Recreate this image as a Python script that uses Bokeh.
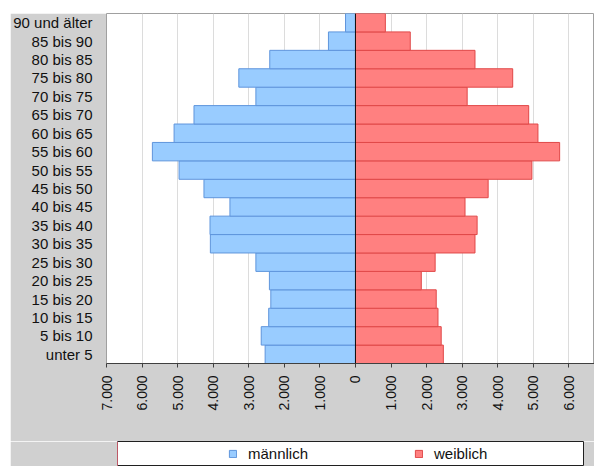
import math
from bokeh.plotting import figure
from bokeh.models import (ColumnDataSource, FactorRange, FixedTicker, CustomJSTickFormatter,
                          Span, Legend, LegendItem, Spacer, Range1d)
from bokeh.layouts import column, row
from bokeh.embed import file_html
from bokeh.resources import INLINE

# Age groups, bottom to top
categories = ["unter 5", "5 bis 10", "10 bis 15", "15 bis 20", "20 bis 25", "25 bis 30",
              "30 bis 35", "35 bis 40", "40 bis 45", "45 bis 50", "50 bis 55", "55 bis 60",
              "60 bis 65", "65 bis 70", "70 bis 75", "75 bis 80", "80 bis 85", "85 bis 90",
              "90 und älter"]
maennlich = [2540, 2650, 2440, 2380, 2420, 2800, 4080, 4090, 3530, 4260, 4960, 5710,
             5100, 4540, 2800, 3280, 2410, 760, 280]
weiblich = [2470, 2410, 2320, 2270, 1850, 2240, 3360, 3420, 3080, 3730, 4960, 5740,
            5130, 4870, 3140, 4420, 3360, 1540, 840]
tick_values = [-7000, -6000, -5000, -4000, -3000, -2000, -1000, 0,
               1000, 2000, 3000, 4000, 5000, 6000]

FONT = "Liberation Sans"
GRAY = "#d0d0d0"
M_FILL, M_LINE = "#99ccff", "#5f95dc"
W_FILL, W_LINE = "#ff8080", "#e04848"

src_m = ColumnDataSource(dict(y=categories, left=[-v for v in maennlich], right=[0] * len(maennlich)))
src_w = ColumnDataSource(dict(y=categories, left=[0] * len(weiblich), right=weiblich))

# ---- main pyramid ----
p = figure(width=584, height=428, output_backend="svg", toolbar_location=None,
           y_range=FactorRange(*categories, range_padding=0),
           x_range=(-7000, 6720),
           min_border_left=95, min_border_right=0, min_border_top=0, min_border_bottom=78)
p.border_fill_color = GRAY
p.background_fill_color = "white"
p.outline_line_color = "#a0a0a0"
p.outline_line_width = 1

p.hbar(y="y", left="left", right="right", height=1.0, source=src_m,
       fill_color=M_FILL, line_color=M_LINE, line_width=1)
p.hbar(y="y", left="left", right="right", height=1.0, source=src_w,
       fill_color=W_FILL, line_color=W_LINE, line_width=1)

p.add_layout(Span(location=0, dimension="height", line_color="#101010", line_width=1))

p.xaxis.ticker = FixedTicker(ticks=tick_values)
p.xaxis.formatter = CustomJSTickFormatter(code="""
    const v = Math.abs(Math.round(tick));
    return v.toFixed(0).replace(/\\B(?=(\\d{3})+(?!\\d))/g, '.');
""")
p.xaxis.major_label_orientation = math.pi / 2
p.xaxis.major_label_text_font = FONT
p.xaxis.major_label_text_font_size = "14px"
p.xaxis.major_label_text_color = "#111111"
p.xaxis.major_label_standoff = 8
p.xaxis.major_tick_out = 4
p.xaxis.major_tick_in = 0
p.xaxis.minor_tick_line_color = None
p.xaxis.axis_line_color = "#404040"
p.xaxis.major_tick_line_color = "#404040"

p.yaxis.major_label_text_font = FONT
p.yaxis.major_label_text_font_size = "15px"
p.yaxis.major_label_text_color = "#111111"
p.yaxis.major_tick_line_color = None
p.yaxis.major_tick_out = 0
p.yaxis.major_tick_in = 0
p.yaxis.axis_line_color = None
p.yaxis.major_label_standoff = 14

p.xgrid.ticker = FixedTicker(ticks=tick_values)
p.xgrid.grid_line_color = "#dcdcdc"
p.ygrid.grid_line_color = None

# ---- legend strip (white box with two entries) ----
q = figure(width=584, height=25, output_backend="svg", toolbar_location=None,
           x_range=Range1d(10000, 10001), y_range=FactorRange(*categories),
           x_axis_location=None, y_axis_location=None,
           min_border_left=107, min_border_right=11, min_border_top=0, min_border_bottom=0)
q.border_fill_color = GRAY
q.background_fill_color = "white"
q.outline_line_color = "#202020"
q.grid.visible = False
qm = q.hbar(y="y", left="left", right="right", height=1.0, source=src_m,
            fill_color=M_FILL, line_color=M_LINE, line_width=1)
qw = q.hbar(y="y", left="left", right="right", height=1.0, source=src_w,
            fill_color=W_FILL, line_color=W_LINE, line_width=1)

legend = Legend(items=[LegendItem(label="männlich", renderers=[qm]),
                       LegendItem(label="weiblich", renderers=[qw])],
                orientation="horizontal", location=(111, 4),
                padding=0, spacing=104, label_width=62, label_height=15,
                glyph_width=9, glyph_height=9, label_standoff=11,
                label_text_font=FONT, label_text_font_size="15px",
                label_text_color="#111111",
                background_fill_alpha=0, border_line_color=None)
q.add_layout(legend, "center")

layout = column(Spacer(width=594, height=13),
                row(Spacer(width=10, height=428), p),
                row(Spacer(width=10, height=25), q))

open("out.html", "w").write(file_html(layout, INLINE))
